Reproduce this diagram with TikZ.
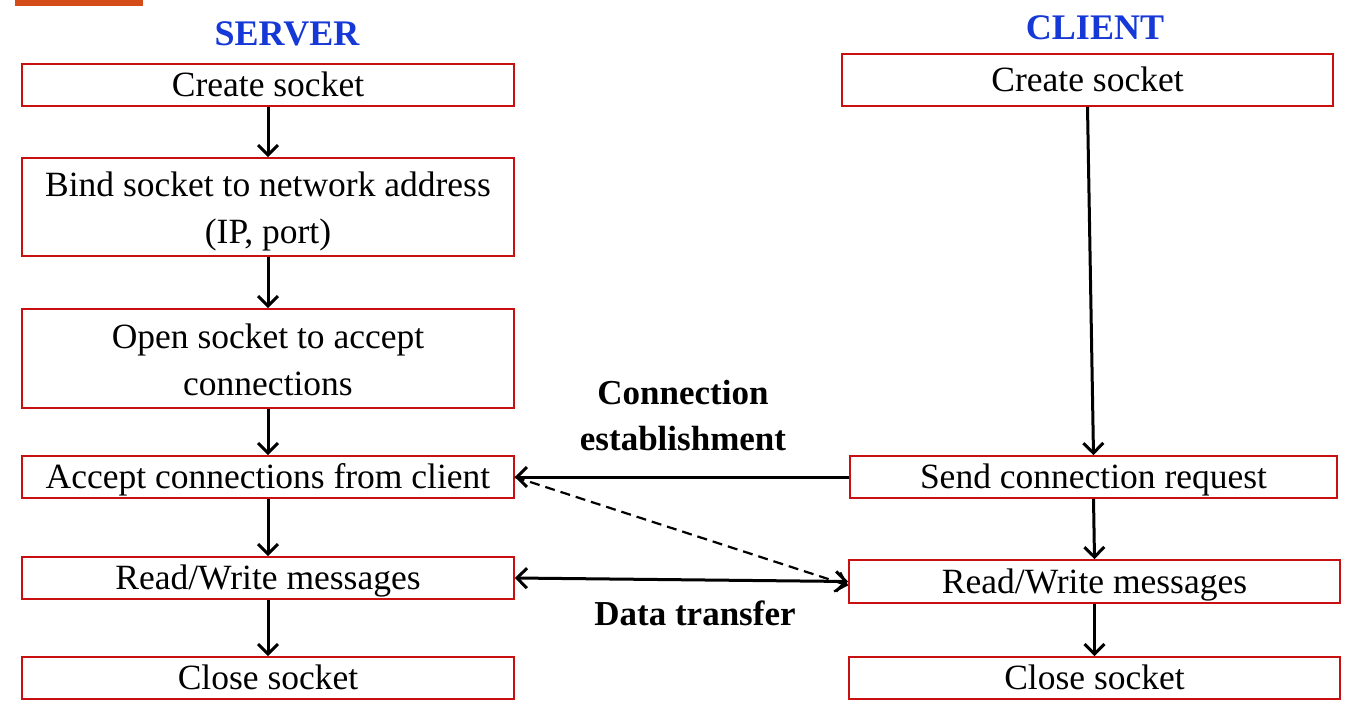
\documentclass[tikz,border=0pt]{standalone}
\usepackage{fontspec}
\setmainfont{Liberation Serif}
\usetikzlibrary{arrows.meta}
\definecolor{boxred}{RGB}{200,16,16}
\definecolor{headblue}{RGB}{22,56,214}
\definecolor{barorange}{RGB}{212,76,26}
\tikzset{
  stepbox/.style={draw=boxred, line width=1.7pt, inner sep=0pt, align=center,
    font=\fontsize{35.5}{47}\selectfont, text height=23pt, text depth=0pt},
  twoline/.style={text height=73pt, text depth=0pt},
  head/.style={font=\fontsize{36}{40}\selectfont\bfseries, text=headblue, inner sep=0pt},
  lbl/.style={font=\fontsize{35}{46}\selectfont\bfseries, align=center, inner sep=0pt},
  arr/.style={line width=3pt, -{Straight Barb[length=10pt,width=20pt,line width=3pt]}},
  darr/.style={line width=3pt, {Straight Barb[length=10pt,width=20pt,line width=3pt]}-{Straight Barb[length=10pt,width=20pt,line width=3pt]}},
  dasharr/.style={line width=2.2pt, dash pattern=on 10pt off 6pt, -{Straight Barb[length=10pt,width=20pt,line width=2.2pt]}}
}
\begin{document}
\begin{tikzpicture}[x=1pt,y=-1pt]
\useasboundingbox (0,0) rectangle (1367,708);
\fill[barorange] (15,0) rectangle (143,6);
\node[head] (hs) at (287,34) {SERVER};
\node[head] (hc) at (1095,28) {CLIENT};
% server
\node[stepbox, minimum width=492pt, minimum height=42pt] (s1) at (268,85) {Create socket};
\node[stepbox, twoline, minimum width=492pt, minimum height=98pt] (s2) at (268,207) {Bind socket to network address\\(IP, port)};
\node[stepbox, twoline, minimum width=492pt, minimum height=99pt] (s3) at (268,358.5) {Open socket to accept\\connections};
\node[stepbox, minimum width=492pt, minimum height=42pt] (s4) at (268,477) {Accept connections from client};
\node[stepbox, minimum width=492pt, minimum height=42pt] (s5) at (268,578) {Read/Write messages};
\node[stepbox, minimum width=492pt, minimum height=42pt] (s6) at (268,678) {Close socket};
% client
\node[stepbox, minimum width=491pt, minimum height=52pt] (c1) at (1087.5,80) {Create socket};
\node[stepbox, minimum width=487pt, minimum height=42pt] (c2) at (1093.5,477) {Send connection request};
\node[stepbox, minimum width=491pt, minimum height=43pt] (c3) at (1094.5,581.5) {Read/Write messages};
\node[stepbox, minimum width=491pt, minimum height=42pt] (c4) at (1094.5,678) {Close socket};
% labels
\node[lbl] (l1) at (683,416) {Connection\\establishment};
\node[lbl] (l2) at (695,613) {Data transfer};
% arrows
\draw[arr] (s1.south) -- (s2.north);
\draw[arr] (s2.south) -- (s3.north);
\draw[arr] (s3.south) -- (s4.north);
\draw[arr] (s4.south) -- (s5.north);
\draw[arr] (s5.south) -- (s6.north);
\draw[arr] (c1.south) -- (c2.north);
\draw[arr] (c2.south) -- (c3.north);
\draw[arr] (c3.south) -- (c4.north);
\draw[arr] (c2.west) -- (s4.east);
\draw[dasharr] (s4.east) -- ([yshift=-4pt]c3.west);
\draw[darr] (s5.east) -- (c3.west);
\end{tikzpicture}
\end{document}
